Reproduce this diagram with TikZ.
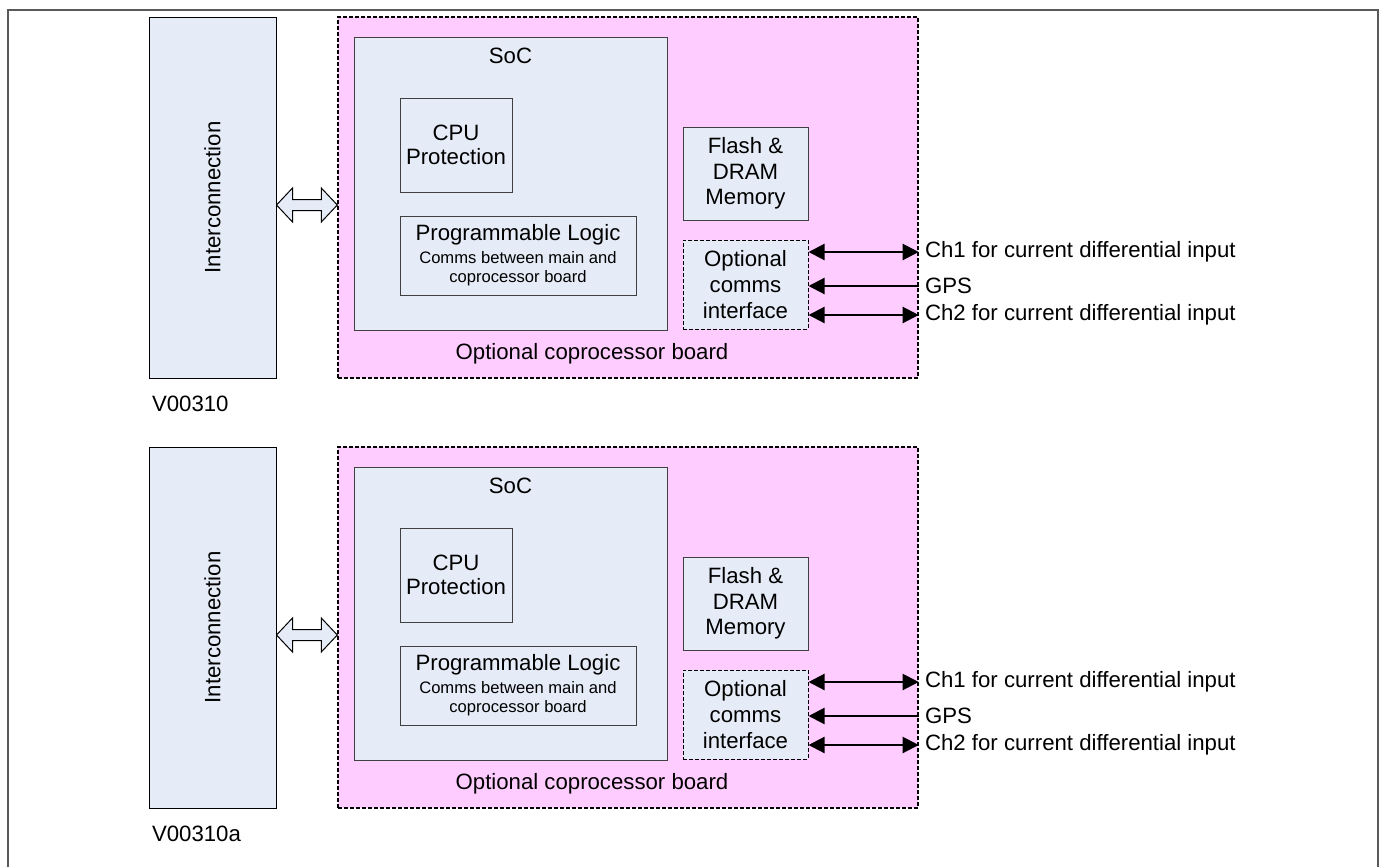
\documentclass[tikz,border=0pt]{standalone}
\usepackage{fontspec}
\setmainfont{Liberation Sans}
\usetikzlibrary{arrows.meta,calc}
\definecolor{boardpink}{HTML}{FFCCFF}
\definecolor{boxblue}{HTML}{E6ECF7}
\definecolor{edgegray}{HTML}{404040}
\definecolor{framegray}{HTML}{5A5A5A}
\newcommand{\plsmall}{\fontsize{8.3}{9.5}\selectfont}

\begin{document}
\begin{tikzpicture}[x=0.5pt,y=-0.5pt,
  font=\fontsize{11.1}{12.8}\selectfont,
  blk/.style={draw=edgegray,fill=boxblue,line width=0.5pt,inner sep=0pt,align=center},
  brd/.style={draw=black,fill=boardpink,line width=0.7pt,dash pattern=on 2pt off 1pt,inner sep=0pt},
  sig/.style={line width=1.1pt,-{Triangle[length=8pt,width=8pt]}},
  dsig/.style={line width=1.1pt,{Triangle[length=8pt,width=8pt]}-{Triangle[length=8pt,width=8pt]}},
  fatarrow/.style={draw=black,fill=boxblue,line width=0.5pt,line join=miter}]
\useasboundingbox (0,0) rectangle (1386,867);
% outer frame
\draw[framegray,line width=1pt] (8,867) -- (8,10) -- (1378,10) -- (1378,867);
\foreach \dy/\tag/\n in {0/V00310/a,430/V00310a/b}{
  % interconnection and coprocessor board
  \node[blk,draw=black,minimum width=63.5pt,minimum height=180.5pt] (ic-\n) at (212.5,197.5+\dy) {};
  \node[rotate=90] (iclbl-\n) at (ic-\n) {Interconnection};
  \node[brd,minimum width=290pt,minimum height=180.5pt] (board-\n) at (628,197.5+\dy) {};
  \node[blk,minimum width=156.5pt,minimum height=146.5pt] (soc-\n) at (510.5,183.5+\dy) {};
  \node (soclbl-\n) at (510.5,56+\dy) {SoC};
  \node[blk,minimum width=56pt,minimum height=47pt] (cpu-\n) at (456,145+\dy) {CPU\\[-1pt]Protection};
  \node[blk,minimum width=118pt,minimum height=39.5pt] (pl-\n) at (518,255.5+\dy)
    {Programmable Logic\\[-1.5pt]\plsmall Comms between main and\\[-3.2pt]\plsmall coprocessor board};
  \node[blk,minimum width=62.5pt,minimum height=46.5pt] (mem-\n) at (745.5,173.5+\dy) {Flash \&\\DRAM\\Memory};
  \node[blk,draw=black,dash pattern=on 2pt off 1pt,minimum width=62.5pt,minimum height=44.5pt]
    (comms-\n) at (745.5,284.5+\dy) {Optional\\comms\\interface};
  \node (brdlbl-\n) at (592,354+\dy) {Optional coprocessor board};
  \node[anchor=west] (tag-\n) at (145,404+\dy) {\tag};
  % fat link between interconnection and board
  \coordinate (al-\n) at (ic-\n.east |- 0,205+\dy);
  \coordinate (ar-\n) at (board-\n.west |- 0,205+\dy);
  \draw[fatarrow] (al-\n) -- ++(16,-17) -- ++(0,11.5) -- ($(ar-\n)+(-16,-5.5)$) -- ++(0,-11.5)
    -- (ar-\n) -- ++(-16,17) -- ++(0,-11.5) -- ($(al-\n)+(16,5.5)$) -- ++(0,11.5) -- cycle;
  % channels
  \node[anchor=west] (ch1-\n) at (918,252+\dy) {Ch1 for current differential input};
  \node[anchor=west] (gps-\n) at (918,286+\dy) {GPS};
  \node[anchor=west] (ch2-\n) at (918,315+\dy) {Ch2 for current differential input};
  \draw[dsig] (comms-\n.east |- ch1-\n) -- (board-\n.east |- ch1-\n);
  \draw[sig] (board-\n.east |- gps-\n) -- (comms-\n.east |- gps-\n);
  \draw[dsig] (comms-\n.east |- ch2-\n) -- (board-\n.east |- ch2-\n);
}
\end{tikzpicture}
\end{document}
